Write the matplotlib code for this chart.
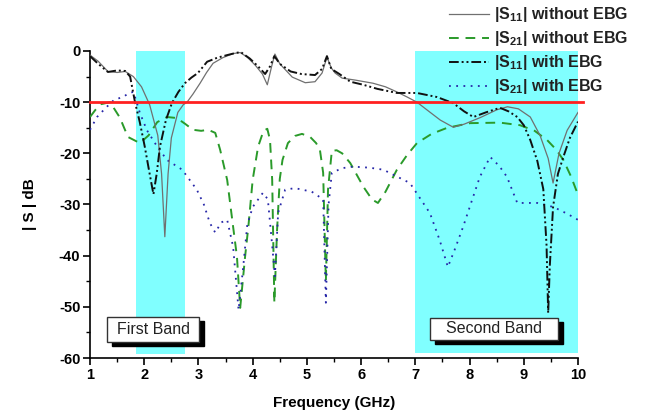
import matplotlib
matplotlib.use("Agg")
import matplotlib.pyplot as plt
from matplotlib.patches import Rectangle
from matplotlib.lines import Line2D
from matplotlib.ticker import MultipleLocator

plt.rcParams['font.family'] = ['Liberation Sans', 'DejaVu Sans']
plt.rcParams['mathtext.fontset'] = 'custom'
plt.rcParams['mathtext.rm'] = 'Liberation Sans'
plt.rcParams['mathtext.bf'] = 'Liberation Sans:bold'

# ---- data ----
f_s11_wo = [1.0, 1.15, 1.33, 1.5, 1.65, 1.8, 1.95, 2.1, 2.25, 2.32, 2.38, 2.44, 2.5, 2.62, 2.72, 2.79,
            2.9, 3.03, 3.15, 3.27, 3.45, 3.64, 3.77, 3.9, 4.05, 4.18, 4.27, 4.35, 4.41, 4.5, 4.73,
            4.97, 5.15, 5.28, 5.37, 5.45, 5.52, 5.65, 5.9, 6.22, 6.45, 6.66, 6.85, 7.03, 7.25, 7.46,
            7.7, 7.9, 8.2, 8.5, 8.7, 8.9, 9.12, 9.3, 9.45, 9.54, 9.65, 9.8, 10.0]
db_s11_wo = [-0.8, -2.0, -4.0, -4.2, -4.0, -5.0, -7.0, -10.5, -16.5, -24.0, -36.3, -24.0, -17.0, -12.0, -10.5, -10.0,
             -8.4, -6.3, -4.2, -2.4, -1.3, -0.5, -0.3, -1.2, -2.8, -4.5, -6.6, -3.0, -0.6, -2.5, -5.1,
             -6.2, -6.0, -4.3, -1.2, -3.3, -4.3, -5.3, -5.7, -6.3, -7.0, -8.0, -9.0, -10.0, -11.8, -13.5,
             -14.9, -14.3, -13.0, -11.5, -10.9, -11.3, -12.9, -16.5, -21.0, -25.8, -20.0, -15.5, -12.0]

f_s21_wo = [1.0, 1.1, 1.2, 1.37, 1.55, 1.70, 1.92, 2.08, 2.24, 2.42, 2.6, 2.75, 2.9, 3.05, 3.18, 3.31,
            3.40, 3.53, 3.64, 3.71, 3.77, 3.86, 3.92, 4.0, 4.1, 4.2, 4.27, 4.32, 4.36, 4.40, 4.45,
            4.50, 4.55, 4.65, 4.78, 4.91, 5.06, 5.17, 5.24, 5.30, 5.35, 5.39, 5.46, 5.55, 5.65, 5.80,
            6.04, 6.20, 6.31, 6.45, 6.66, 6.85, 7.03, 7.30, 7.59, 8.01, 8.56, 8.93, 9.20, 9.43, 9.60,
            9.73, 9.87, 10.0]
db_s21_wo = [-12.9, -11.5, -10.4, -10.0, -13.0, -16.8, -18.0, -16.5, -13.9, -12.9, -13.1, -14.2, -15.4, -15.6, -15.4, -16.0,
             -19.3, -25.2, -34.4, -40.2, -50.2, -40.2, -34.4, -25.2, -18.7, -15.6, -15.2, -17.4, -25.2, -49.2, -35.0,
             -25.0, -21.3, -18.0, -16.6, -16.2, -16.8, -18.0, -19.3, -23.8, -45.0, -27.0, -19.5, -19.4, -20.0, -21.9,
             -26.5, -29.0, -29.7, -27.5, -23.2, -20.3, -18.0, -16.2, -15.0, -14.1, -14.0, -14.5, -15.6, -17.4, -19.3,
             -21.3, -24.5, -28.1]

f_s11_w = [1.0, 1.15, 1.33, 1.5, 1.65, 1.74, 1.83, 1.92, 2.01, 2.1, 2.17, 2.23, 2.29, 2.4, 2.51, 2.63,
           2.75, 2.87, 2.99, 3.16, 3.35, 3.53, 3.68, 3.78, 3.95, 4.1, 4.23, 4.32, 4.4, 4.5, 4.7,
           4.9, 5.15, 5.28, 5.37, 5.45, 5.6, 5.8, 6.04, 6.3, 6.66, 7.03, 7.4, 7.7, 7.9, 8.07, 8.3,
           8.56, 8.72, 8.88, 9.0, 9.12, 9.25, 9.36, 9.42, 9.45, 9.48, 9.54, 9.63, 9.73, 9.85, 10.0]
db_s11_w = [-1.0, -2.5, -4.1, -3.8, -3.9, -5.0, -10.0, -14.0, -18.7, -24.0, -28.0, -24.0, -18.7, -13.5, -10.2, -8.0,
            -6.3, -5.2, -4.3, -2.1, -1.3, -0.8, -0.4, -0.2, -1.5, -3.0, -4.5, -3.0, -1.0, -2.5, -4.0,
            -4.5, -4.7, -3.5, -1.0, -3.5, -4.5, -6.0, -6.6, -7.4, -8.2, -8.2, -9.0, -10.2, -11.8, -12.9, -12.0,
            -11.1, -11.8, -12.9, -14.5, -17.4, -21.5, -27.0, -38.0, -51.2, -42.0, -30.5, -24.0, -20.7, -17.0, -13.8]

f_s21_w = [1.0, 1.13, 1.3, 1.45, 1.61, 1.72, 1.80, 1.86, 1.92, 2.05, 2.24, 2.42, 2.7, 2.97, 3.10, 3.21,
           3.31, 3.42, 3.53, 3.64, 3.74, 3.82, 3.90, 4.0, 4.19, 4.28, 4.36, 4.41, 4.47, 4.6, 4.78,
           5.09, 5.30, 5.35, 5.40, 5.46, 5.65, 5.85, 6.15, 6.41, 6.9, 7.27, 7.45, 7.60, 7.72, 7.88,
           8.05, 8.19, 8.38, 8.55, 8.69, 8.88, 9.25, 9.55, 9.8, 10.0]
db_s21_w = [-15.4, -12.9, -11.0, -9.5, -9.0, -8.2, -8.0, -10.0, -12.1, -15.5, -18.7, -21.3, -23.2, -27.1, -30.0, -33.6,
            -35.5, -33.5, -33.0, -38.3, -50.6, -42.8, -34.0, -30.5, -27.7, -29.0, -38.0, -44.0, -31.6, -27.1, -26.8,
            -27.5, -29.0, -49.2, -30.0, -23.8, -22.9, -22.6, -22.8, -23.2, -25.8, -31.7, -37.0, -42.2, -39.0, -34.4,
            -29.0, -24.6, -20.7, -22.5, -24.6, -29.7, -29.7, -30.5, -31.8, -33.0]

bands = [(1.85, 2.75), (7.0, 10.0)]
band_labels = ["First Band", "Second Band"]
threshold = -10
legend_labels = [r"$\mathbf{|S_{11}|}$ without EBG", r"$\mathbf{|S_{21}|}$ without EBG",
                 r"$\mathbf{|S_{11}|}$ with EBG", r"$\mathbf{|S_{21}|}$ with EBG"]

# ---- figure ----
fig = plt.figure(figsize=(6.46, 4.15), dpi=100)
ax = fig.add_axes([90/646, 1-358/415, (578-90)/646, (358-51)/415])
ax.set_xlim(1, 10)
ax.set_ylim(-60, 0)

cyan = '#80ffff'
ax.axvspan(bands[0][0], bands[0][1], ymin=(60-59.3)/60, ymax=1, color=cyan, lw=0, zorder=0)
ax.axvspan(bands[1][0], bands[1][1], ymin=(60-59.0)/60, ymax=1, color=cyan, lw=0, zorder=0)

styles = [dict(color='#707070', lw=0.9, ls='-'),
          dict(color='#2a9a2a', lw=1.4, ls=(0, (5, 3.5))),
          dict(color='#111111', lw=1.4, ls=(0, (5, 1.5, 1, 1.5, 1, 1.5))),
          dict(color='#2727a8', lw=1.3, ls=(0, (1, 3)))]
series = [(f_s11_wo, db_s11_wo), (f_s21_wo, db_s21_wo), (f_s11_w, db_s11_w), (f_s21_w, db_s21_w)]
order = [1, 3, 0, 2]
for i in order:
    ax.plot(series[i][0], series[i][1], zorder=3, **styles[i])

ax.plot([1, 10.1], [threshold, threshold], color='#ff2020', lw=2.0, zorder=4, clip_on=False)

# band label boxes
boxes = [((1.314, -56.84), 3.011-1.314, 4.89), ((7.27, -56.4), 9.63-7.27, 4.3)]
dx, dy = 5/54.2, 4.5/5.12
for (xy, w, h), lab in zip(boxes, band_labels):
    ax.add_patch(Rectangle((xy[0]+dx, xy[1]-dy), w, h, facecolor='black', edgecolor='black', zorder=5))
    ax.add_patch(Rectangle(xy, w, h, facecolor='white', edgecolor='#333333', lw=1.0, zorder=6))
    ax.text(xy[0]+w/2, xy[1]+h/2, lab, ha='center', va='center', fontsize=11.5, color='#222222', zorder=7)

for s in ['top', 'right']:
    ax.spines[s].set_visible(False)
for s in ['left', 'bottom']:
    ax.spines[s].set_linewidth(1.2)

ax.xaxis.set_minor_locator(MultipleLocator(0.5))
ax.yaxis.set_minor_locator(MultipleLocator(5))
ax.tick_params(which='major', direction='out', length=5, width=1.2, labelsize=10.5, pad=2)
ax.tick_params(which='minor', direction='out', length=3, width=1.0)
ax.set_xticks(range(1, 11))
ax.set_xticklabels([str(v) for v in range(1, 11)], fontweight='bold')
ax.set_yticks(range(-60, 1, 10))
ax.set_yticklabels([str(v) for v in range(-60, 1, 10)], fontweight='bold')

ax.set_xlabel("Frequency (GHz)", fontsize=11, fontweight='bold', labelpad=10)
ax.set_ylabel("| S | dB", fontsize=11, fontweight='bold', labelpad=16)

# legend (manual, figure coords)
rows = [14, 38, 62, 86]
for i, y in enumerate(rows):
    yf = 1 - y/415
    fig.add_artist(Line2D([449/646, 489/646], [yf, yf], **styles[i]))
    fig.text(494/646, yf, legend_labels[i], fontsize=11.5, fontweight='bold', va='center', ha='left', color='#222222')

fig.savefig("out.png", dpi=100)
